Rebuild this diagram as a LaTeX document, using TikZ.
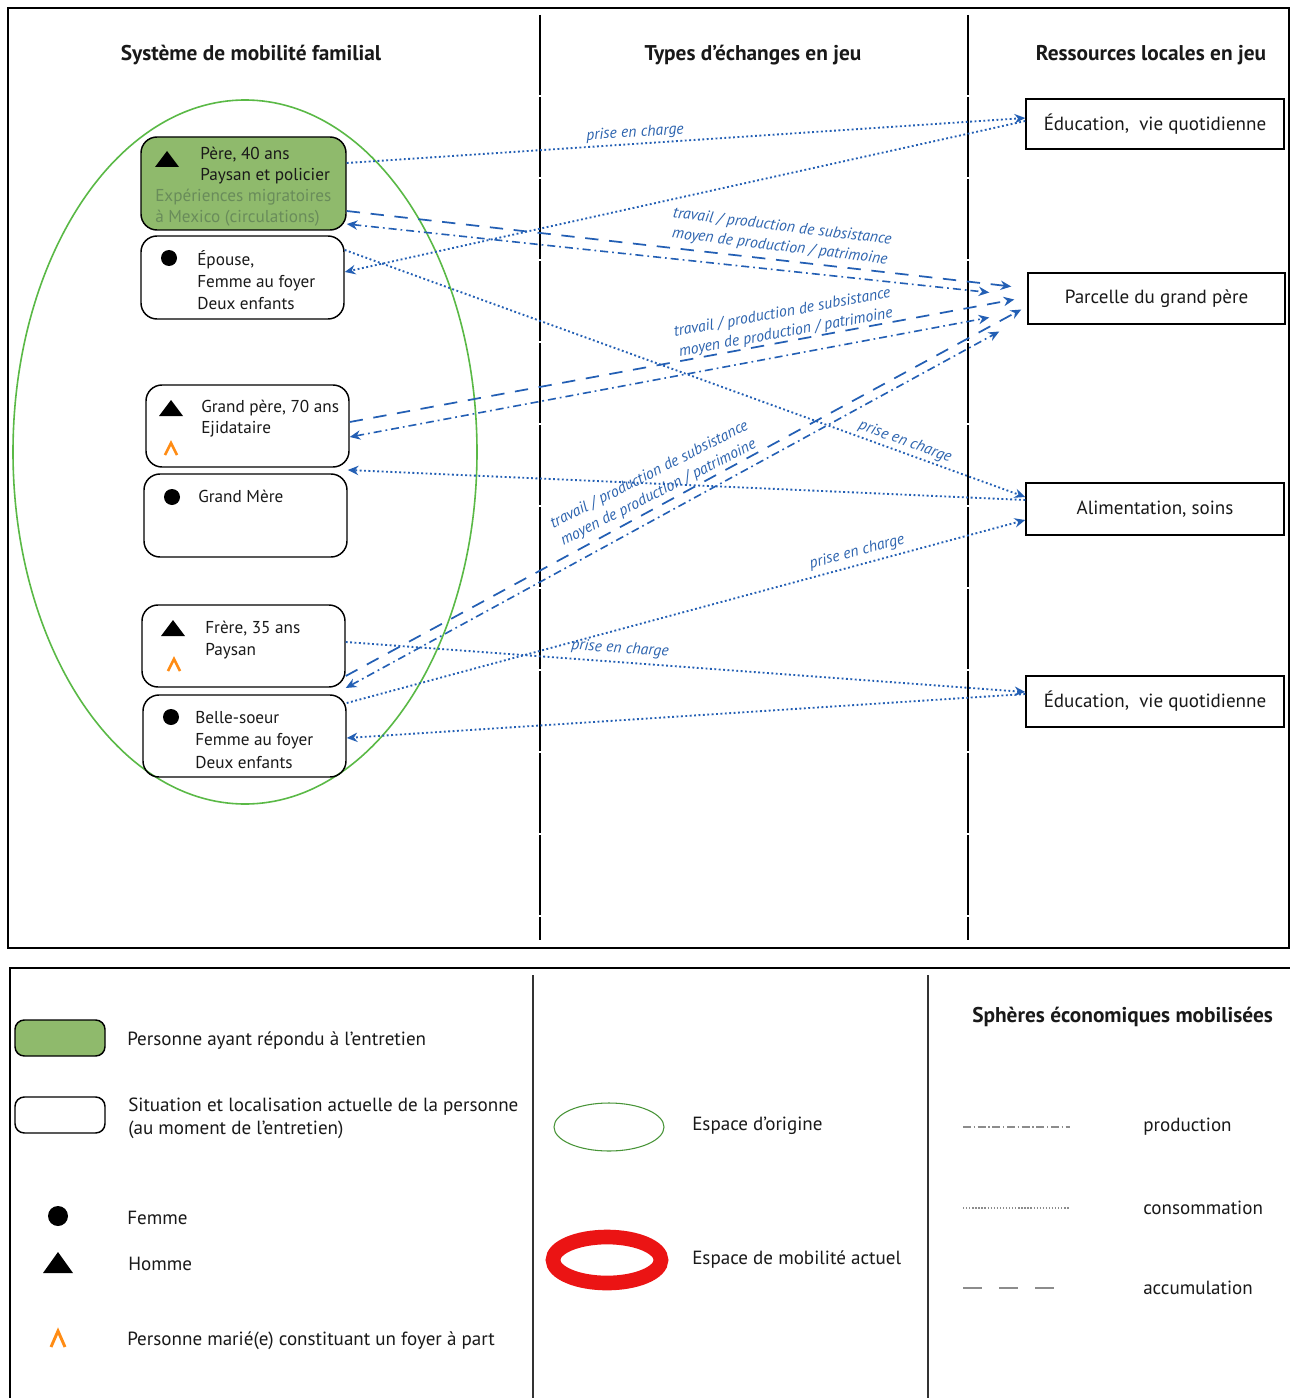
\documentclass[tikz,border=0pt]{standalone}
\usepackage{fontspec}
\setmainfont{PT Sans}
\usetikzlibrary{arrows.meta,fit,calc}
\definecolor{lnblue}{RGB}{35,95,180}
\definecolor{lblblue}{RGB}{45,100,175}
\definecolor{pgreen}{RGB}{143,186,108}
\definecolor{egreen}{RGB}{90,185,70}
\definecolor{mgrey}{RGB}{105,140,90}
\definecolor{morange}{RGB}{255,140,20}
\definecolor{legred}{RGB}{235,20,20}
\definecolor{txtc}{RGB}{25,25,25}
\begin{document}
\begin{tikzpicture}[x=0.75pt,y=-0.75pt,
  pbox/.style={draw, line width=1.1pt, rounded corners=12pt, inner sep=0pt},
  rbox/.style={draw, line width=1.1pt, inner sep=0pt},
  txt/.style={anchor=west, inner sep=0pt, text=txtc, font=\fontsize{12.9}{15}\selectfont},
  ltxt/.style={anchor=west, inner sep=0pt, text=txtc, font=\fontsize{14.3}{17}\selectfont},
  head/.style={inner sep=0pt, text=txtc, font=\bfseries\fontsize{16}{19}\selectfont},
  lbl/.style={inner sep=0pt, text=lblblue, align=center, font=\itshape\fontsize{11.8}{15}\selectfont},
  tip/.style={-{Stealth[length=8pt,width=7pt]}},
  cons/.style={lnblue, line width=1.4pt, dash pattern=on 1.4pt off 1.9pt, tip},
  accu/.style={lnblue, line width=1.3pt, dash pattern=on 10pt off 8pt, tip},
  prod/.style={lnblue, line width=1.2pt, dash pattern=on 6pt off 3pt on 1.3pt off 3pt, {Stealth[length=8pt,width=7pt]}-{Stealth[length=8pt,width=7pt]}},
  divider/.style={line width=1.6pt, dash pattern=on 60pt off 1.5pt},
  ldivider/.style={line width=0.9pt, black!80},
  sample/.style={line width=0.8pt, black!45}
]
\useasboundingbox (0,0) rectangle (1291,1398);
\fill[white] (0,0) rectangle (1291,1398);

% ---------- top frame ----------
\draw[line width=2.2pt] (8,8) rectangle (1289,948);
\draw[divider] (540,15) -- (540,940);
\draw[divider] (968,15) -- (968,940);

\node[head] (h1) at (251,55) {Système de mobilité familial};
\node[head] (h2) at (753,55) {Types d’échanges en jeu};
\node[head] (h3) at (1151,55) {Ressources locales en jeu};

% origin space
\draw[egreen, line width=1.2pt] (245,452) ellipse [x radius=232, y radius=352];

% ---------- person boxes ----------
\node[pbox, fill=pgreen, fit={(141,137) (346,230)}] (pere) {};
\node[pbox, fit={(141,236) (344,319)}] (epouse) {};
\node[pbox, fit={(146,385) (349,467)}] (gpere) {};
\node[pbox, fit={(144,474) (347,557)}] (gmere) {};
\node[pbox, fit={(142,605) (345,687)}] (frere) {};
\node[pbox, fit={(143,695) (346,777)}] (bsoeur) {};

% symbols
\fill[black] (155,167) -- (179,167) -- (167,151) -- cycle;
\fill[black] (169,258) circle [radius=8];
\fill[black] (159,416) -- (183,416) -- (171,400) -- cycle;
\draw[morange, line width=2pt] (165,455) -- (171,443) -- (177,455);
\fill[black] (172,497) circle [radius=8];
\fill[black] (161,636) -- (185,636) -- (173,620) -- cycle;
\draw[morange, line width=2pt] (168,671) -- (174,659) -- (180,671);
\fill[black] (171,717) circle [radius=8];

% texts
\node[txt] (t1) at (200,155) {Père, 40 ans};
\node[txt] (t2) at (200,176) {Paysan et policier};
\node[txt, text=mgrey] (t3) at (155,197) {Expériences migratoires};
\node[txt, text=mgrey] (t4) at (155,218) {à Mexico (circulations)};
\node[txt] (t5) at (197,260) {Épouse,};
\node[txt] (t6) at (197,283) {Femme au foyer};
\node[txt] (t7) at (197,304) {Deux enfants};
\node[txt] (t8) at (201,408) {Grand père, 70 ans};
\node[txt] (t9) at (201,429) {Ejidataire};
\node[txt] (t10) at (198,496) {Grand Mère};
\node[txt] (t11) at (205,629) {Frère, 35 ans};
\node[txt] (t12) at (205,651) {Paysan};
\node[txt] (t13) at (195,718) {Belle-soeur};
\node[txt] (t14) at (195,741) {Femme au foyer};
\node[txt] (t15) at (195,763) {Deux enfants};

% ---------- resource boxes ----------
\node[rbox, fit={(1026,99) (1284,149)}] (educ1) {};
\node[ltxt, anchor=center] at (educ1.center) {Éducation,\ \ vie quotidienne};
\node[rbox, fit={(1028,273) (1285,324)}] (parc) {};
\node[ltxt, anchor=center] at (parc.center) {Parcelle du grand père};
\node[rbox, fit={(1026,483) (1284,535)}] (alim) {};
\node[ltxt, anchor=center] at (alim.center) {Alimentation, soins};
\node[rbox, fit={(1026,676) (1284,727)}] (educ2) {};
\node[ltxt, anchor=center] at (educ2.center) {Éducation,\ \ vie quotidienne};

% free ends near the parcel
\coordinate (pa1) at ($(parc.west)+(-16,-12)$);
\coordinate (pa2) at ($(parc.west)+(-38,-6)$);
\coordinate (pa3) at ($(parc.west)+(-13,1)$);
\coordinate (pa4) at ($(parc.west)+(-38,19)$);
\coordinate (pa5) at ($(parc.west)+(-6,11)$);
\coordinate (pa6) at ($(parc.west)+(-28,33)$);

% ---------- consumption (dotted) ----------
\draw[cons] (pere.east |- 0,163) -- (educ1.west |- 0,118);
\draw[cons] (educ1.west |- 0,121) -- (epouse.east |- 0,272);
\draw[cons] (epouse.east |- 0,250) -- (alim.west |- 0,497);
\draw[cons] (alim.west |- 0,500) -- (gmere.east |- 0,470);
\draw[cons] (bsoeur.east |- 0,703) -- (alim.west |- 0,520);
\draw[cons] (frere.east |- 0,642) -- (educ2.west |- 0,692);
\draw[cons] (educ2.west |- 0,694) -- (bsoeur.east |- 0,738);

% ---------- accumulation (dashed) ----------
\draw[accu] (pere.east |- 0,211) -- (pa1);
\draw[accu] (gpere.east |- 0,422) -- (pa3);
\draw[accu] (frere.east |- 0,676) -- (pa5);

% ---------- production (dash-dot) ----------
\draw[prod] (pere.east |- 0,224) -- (pa2);
\draw[prod] (gpere.east |- 0,437) -- (pa4);
\draw[prod] (frere.east |- 0,688) -- (pa6);

% ---------- labels ----------
\node[lbl, rotate=3.8] (l1) at (635,133) {prise en charge};
\node[lbl, rotate=-20] (l2) at (905,442) {prise en charge};
\node[lbl, rotate=15] (l3) at (857,552) {prise en charge};
\node[lbl, rotate=-4.2] (l4) at (620,649) {prise en charge};
\node[lbl, rotate=-7] (l5) at (781,237) {travail / production de subsistance\\moyen de production / patrimoine};
\node[lbl, rotate=10.3] (l6) at (784,323) {travail / production de subsistance\\moyen de production / patrimoine};
\node[lbl, rotate=27] (l7) at (654,484) {travail / production de subsistance\\moyen de production / patrimoine};

% ---------- legend ----------
\draw[line width=2.2pt] (10,1398) -- (10,968) -- (1290,968);
\draw[ldivider] (533,975) -- (533,1398);
\draw[ldivider] (928,975) -- (928,1398);

\node[pbox, fill=pgreen, rounded corners=7pt, fit={(15,1020) (105,1056)}] (lg1) {};
\node[ltxt] at (127,1041) {Personne ayant répondu à l’entretien};
\node[pbox, rounded corners=7pt, fit={(15,1097) (105,1133)}] (lg2) {};
\node[ltxt] at (128,1107) {Situation et localisation actuelle de la personne};
\node[ltxt] at (128,1130) {(au moment de l’entretien)};
\fill[black] (58,1216) circle [radius=10];
\node[ltxt] at (127,1218) {Femme};
\fill[black] (43,1273) -- (73,1273) -- (58,1252) -- cycle;
\node[ltxt] at (128,1264) {Homme};
\draw[morange, line width=2.2pt] (51,1347) -- (58,1331) -- (65,1347);
\node[ltxt] at (127,1341) {Personne marié(e) constituant un foyer à part};

\draw[egreen!80!black, line width=0.8pt] (609,1127) ellipse [x radius=55, y radius=24];
\node[ltxt] at (692,1126) {Espace d’origine};
\draw[legred, line width=11pt] (607,1260) ellipse [x radius=54, y radius=23];
\node[ltxt] at (692,1260) {Espace de mobilité actuel};

\node[head, anchor=west] at (972,1017) {Sphères économiques mobilisées};
\draw[sample, dash pattern=on 6pt off 2pt on 1pt off 2pt] (963,1127) -- (1070,1127);
\node[ltxt] at (1143,1127) {production};
\draw[sample, dash pattern=on 1pt off 1.3pt] (963,1208) -- (1070,1208);
\node[ltxt] at (1143,1208) {consommation};
\draw[sample, dash pattern=on 14pt off 13pt] (963,1288) -- (1062,1288);
\node[ltxt] at (1143,1288) {accumulation};
\end{tikzpicture}
\end{document}
